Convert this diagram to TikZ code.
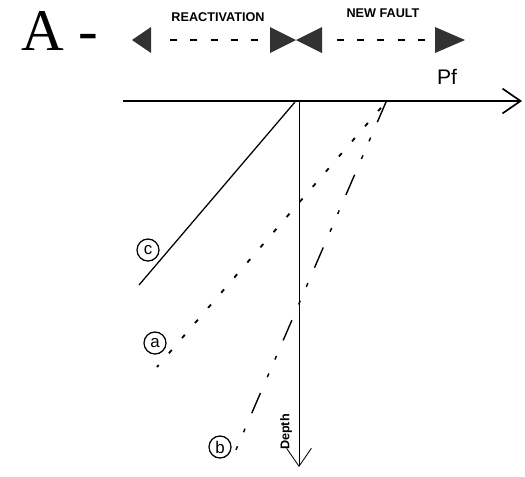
\documentclass[tikz,border=0pt]{standalone}
\usepackage{fontspec}
\newfontfamily\arial{Liberation Sans}
\newfontfamily\titleserif{Liberation Serif}
\definecolor{tridark}{RGB}{50, 50, 50}
\usetikzlibrary{arrows.meta}

\begin{document}
\begin{tikzpicture}[x=0.025cm, y=-0.025cm,
    marker/.style={fill=tridark},
    guide/.style={line width=1pt, dash pattern=on 0.175cm off 0.33cm},
    tag/.style={draw, circle, line width=0.9pt, inner sep=0pt, minimum size=0.55cm,
                font=\arial\fontsize{12}{12}\selectfont},
    caption/.style={font=\arial\bfseries\fontsize{9}{9}\selectfont, inner sep=0pt},
    axisarrow/.style={-{Straight Barb[length=0.45cm, width=0.62cm]}}
]
    \useasboundingbox (0,0) rectangle (525,476);

    \node[anchor=base west, inner sep=0pt, font=\titleserif\fontsize{42}{42}\selectfont] (title) at (21,50) {A -};

    % sense of motion
    \fill[marker] (132,40) -- (151,27) -- (151,53) -- cycle;
    \fill[marker] (270,27) -- (296,40) -- (270,53) -- cycle;
    \fill[marker] (322,27) -- (296,40) -- (322,53) -- cycle;
    \fill[marker] (435,27) -- (465,40) -- (435,53) -- cycle;

    \coordinate (reacend) at (151,40);
    \coordinate (bowleft) at (270,40);
    \coordinate (bowright) at (322,40);
    \coordinate (faultend) at (435,40);

    \draw[guide, shorten <=0.3cm, shorten >=0.475cm] (bowleft) -- (reacend);
    \draw[guide, shorten <=0.375cm, shorten >=0.25cm] (bowright) -- (faultend);

    \node[caption] (reaclabel) at (218,17) {REACTIVATION};
    \node[caption] (faultlabel) at (383,13) {NEW FAULT};
    \node[font=\arial\fontsize{15}{15}\selectfont, inner sep=0pt] (pf) at (447,77) {Pf};

    % axes
    \coordinate (origin) at (299,101);
    \coordinate (xstart) at (123,101);
    \coordinate (xend) at (522,101);
    \coordinate (yend) at (299,467);

    \draw[axisarrow, line width=1.2pt] (xstart) -- (xend);
    \draw[axisarrow, line width=0.6pt] (origin) -- (yend);

    \node[font=\arial\bfseries\fontsize{9}{9}\selectfont, rotate=90, inner sep=0pt] (depth) at (286,432) {Depth};

    % fault traces
    \coordinate (ctop) at (295,102);
    \coordinate (cend) at (139,285);
    \coordinate (pivot) at (386,102);
    \coordinate (aend) at (157,367);
    \coordinate (bend) at (235,452);

    \draw[line width=0.9pt] (ctop) -- (cend);
    \draw[line width=1.3pt, dash pattern=on 0.11cm off 0.39cm, dash phase=0.31cm] (pivot) -- (aend);
    \draw[line width=1pt, dash pattern=on 0.55cm off 0.42cm on 0.1cm off 0.38cm on 0.1cm off 0.43cm] (pivot) -- (bend);

    \node[tag] (ctag) at (148,250) {c};
    \node[tag] (atag) at (155,343) {a};
    \node[tag] (btag) at (220,447) {b};
\end{tikzpicture}
\end{document}
